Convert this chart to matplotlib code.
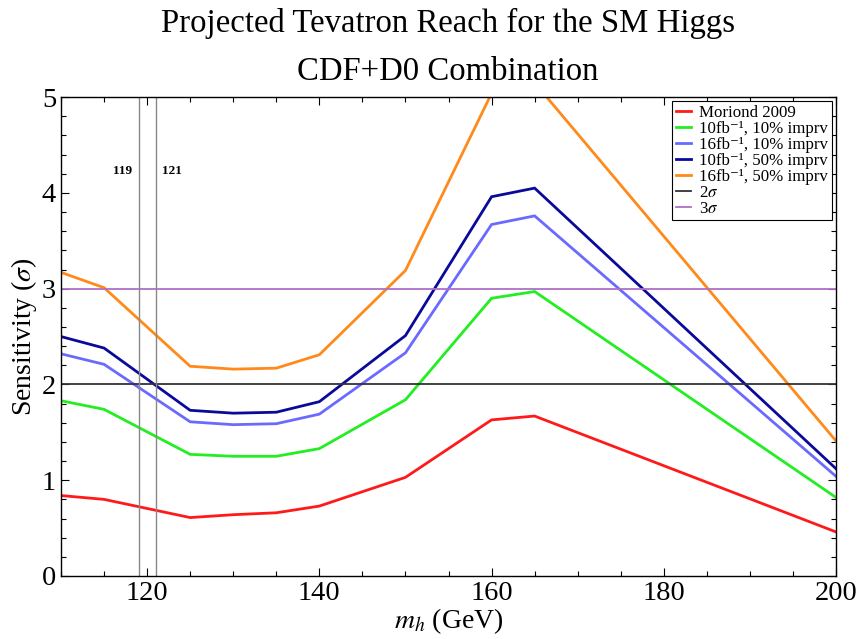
import matplotlib
matplotlib.use("Agg")
import matplotlib.pyplot as plt
from matplotlib.ticker import MultipleLocator

plt.rcParams['font.family'] = ['Liberation Serif', 'DejaVu Serif']
plt.rcParams['mathtext.fontset'] = 'stix'

mass = [110, 115, 125, 130, 135, 140, 150, 160, 165, 200]
moriond = [0.84, 0.80, 0.61, 0.64, 0.66, 0.73, 1.03, 1.63, 1.67, 0.46]
l10_10 = [1.83, 1.74, 1.27, 1.25, 1.25, 1.33, 1.84, 2.90, 2.97, 0.82]
l16_10 = [2.32, 2.21, 1.61, 1.58, 1.59, 1.69, 2.33, 3.67, 3.76, 1.04]
l10_50 = [2.50, 2.38, 1.73, 1.70, 1.71, 1.82, 2.51, 3.96, 4.05, 1.12]
l16_50 = [3.17, 3.01, 2.19, 2.16, 2.17, 2.31, 3.19, 5.04, 5.15, 1.41]
series_labels = ['Moriond 2009', '10fb\u207b\u00b9, 10% imprv', '16fb\u207b\u00b9, 10% imprv',
                 '10fb\u207b\u00b9, 50% imprv', '16fb\u207b\u00b9, 50% imprv']
series_colors = ['#ff1a1a', '#22ee22', '#6a6aff', '#0a0a9a', '#ff8a1a']
sigma_levels = [2, 3]
sigma_labels = [r'2$\sigma$', r'3$\sigma$']
sigma_colors = ['#333333', '#b070c8']
vlines = [119, 121]

fig = plt.figure(figsize=(8.58, 6.39), dpi=100)
ax = fig.add_axes([0.0711, 0.0986, 0.9033, 0.7494])

for ys, lab, c in zip([moriond, l10_10, l16_10, l10_50, l16_50], series_labels, series_colors):
    ax.plot(mass, ys, color=c, lw=2.0, label=lab, solid_joinstyle='miter')
for lvl, lab, c in zip(sigma_levels, sigma_labels, sigma_colors):
    ax.axhline(lvl, color=c, lw=1.3, label=lab)
for v in vlines:
    ax.axvline(v, color='#888888', lw=1.0)
ax.text(vlines[0] - 0.7, 4.23, str(vlines[0]), ha='right', va='center', fontsize=9.5, fontweight='bold')
ax.text(vlines[1] + 0.7, 4.23, str(vlines[1]), ha='left', va='center', fontsize=9.5, fontweight='bold')

ax.set_xlim(110, 200)
ax.set_ylim(0, 5)
ax.xaxis.set_major_locator(MultipleLocator(20))
ax.xaxis.set_minor_locator(MultipleLocator(5))
ax.yaxis.set_major_locator(MultipleLocator(1))
ax.yaxis.set_minor_locator(MultipleLocator(0.2))
ax.tick_params(which='both', direction='in', top=True, right=True, labelsize=20.5, width=0.8)
ax.tick_params(which='major', length=6)
ax.tick_params(which='minor', length=3.5)
for s in ax.spines.values():
    s.set_linewidth(1.0)

ax.set_xlabel(r'$m_h$ (GeV)', fontsize=20, labelpad=0)
ax.set_ylabel(r'Sensitivity ($\sigma$)', fontsize=20, labelpad=2)
xc = 448 / 858
fig.text(xc, 1 - 32 / 639, 'Projected Tevatron Reach for the SM Higgs', ha='center', va='baseline',
         fontsize=23.6)
fig.text(xc, 1 - 80 / 639, 'CDF+D0 Combination', ha='center', va='baseline', fontsize=23.6)

leg = ax.legend(loc='upper right', fontsize=12.2, frameon=True, fancybox=False, framealpha=1,
                edgecolor='black', handlelength=0.9, handletextpad=0.5, labelspacing=0.0,
                borderpad=0.2, borderaxespad=0.25)
leg.get_frame().set_linewidth(0.8)

fig.savefig('out.png', dpi=100)
